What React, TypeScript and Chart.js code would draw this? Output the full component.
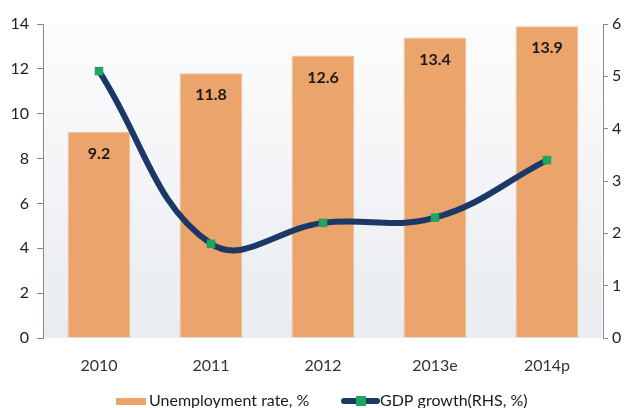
import React, { useEffect, useRef } from "react";
import { Chart, registerables } from "chart.js";

Chart.register(...registerables);

const categories = ["2010", "2011", "2012", "2013e", "2014p"];
const unemployment = [9.2, 11.8, 12.6, 13.4, 13.9];
const gdpGrowth = [5.1, 1.8, 2.2, 2.3, 3.4];
const leftTicks = [0, 2, 4, 6, 8, 10, 12, 14];
const rightTicks = [0, 1, 2, 3, 4, 5, 6];
const seriesNames = ["Unemployment rate, %", "GDP growth(RHS, %)"];

const BAR = "#EAA46C";
const LINE = "#1C3866";
const MARK = "#1FA560";
const FONT = "Lato, 'Open Sans', sans-serif";

const bgPlugin = {
  id: "bgPlugin",
  beforeDatasetsDraw(chart: any) {
    const { ctx, chartArea } = chart;
    const g = ctx.createLinearGradient(0, chartArea.top, 0, chartArea.bottom);
    g.addColorStop(0, "#fbfcfd");
    g.addColorStop(1, "#e9ecf0");
    ctx.save();
    ctx.fillStyle = g;
    ctx.fillRect(chartArea.left + 1, chartArea.top, chartArea.right - chartArea.left - 2, chartArea.bottom - chartArea.top);
    ctx.restore();
  },
};

const labelPlugin = {
  id: "labelPlugin",
  afterDatasetsDraw(chart: any) {
    const { ctx } = chart;
    const meta = chart.getDatasetMeta(1);
    ctx.save();
    ctx.font = `bold 16px ${FONT}`;
    ctx.fillStyle = "#1a1a1a";
    ctx.textAlign = "center";
    ctx.textBaseline = "middle";
    meta.data.forEach((bar: any, i: number) => {
      ctx.fillText(unemployment[i].toFixed(1), bar.x, bar.y + 22);
    });
    ctx.restore();
  },
};

const legendPlugin = {
  id: "legendPlugin",
  afterDraw(chart: any) {
    const { ctx } = chart;
    const y = 401;
    ctx.save();
    ctx.font = `16px ${FONT}`;
    ctx.textBaseline = "middle";
    ctx.textAlign = "left";
    ctx.fillStyle = BAR;
    ctx.fillRect(116, y - 3, 30, 7);
    ctx.fillStyle = "#1a1a1a";
    ctx.fillText(seriesNames[0], 149, y);
    ctx.strokeStyle = LINE;
    ctx.lineWidth = 6;
    ctx.lineCap = "round";
    ctx.beginPath();
    ctx.moveTo(344, y);
    ctx.lineTo(377, y);
    ctx.stroke();
    ctx.fillStyle = MARK;
    ctx.fillRect(356, y - 5, 10, 10);
    ctx.fillStyle = "#1a1a1a";
    ctx.fillText(seriesNames[1], 380, y);
    ctx.restore();
  },
};

export default function App() {
  const ref = useRef<HTMLCanvasElement | null>(null);
  useEffect(() => {
    if (!ref.current) return;
    const chart = new Chart(ref.current, {
      data: {
        labels: categories,
        datasets: [
          {
            type: "line",
            label: seriesNames[1],
            data: gdpGrowth,
            yAxisID: "y2",
            borderColor: LINE,
            borderWidth: 6,
            tension: 0.4,
            pointStyle: "rect",
            pointRadius: 6,
            pointBackgroundColor: MARK,
            pointBorderColor: MARK,
            pointBorderWidth: 0,
            order: 0,
          },
          {
            type: "bar",
            label: seriesNames[0],
            data: unemployment,
            yAxisID: "y",
            backgroundColor: BAR,
            borderColor: "#F1BE96",
            borderWidth: 1,
            categoryPercentage: 0.56,
            barPercentage: 1,
            order: 1,
          },
        ],
      } as any,
      options: {
        animation: false,
        responsive: false,
        maintainAspectRatio: false,
        layout: { padding: { top: 24, bottom: 0, left: 0, right: 0 } },
        plugins: { legend: { display: false }, tooltip: { enabled: false } },
        scales: {
          x: {
            grid: { display: false },
            border: { display: false },
            ticks: { color: "#333", font: { family: FONT, size: 16 }, padding: 10 },
            afterFit(s: any) { s.height = 70; },
          },
          y: {
            position: "left",
            min: 0,
            max: 14,
            afterBuildTicks(s: any) { s.ticks = leftTicks.map((v) => ({ value: v })); },
            grid: { drawOnChartArea: false, color: "#888", tickLength: 6 },
            border: { display: true, color: "#888" },
            ticks: { color: "#222", font: { family: FONT, size: 16 }, padding: 8 },
            afterFit(s: any) { s.width = 43; },
          },
          y2: {
            position: "right",
            min: 0,
            max: 6,
            afterBuildTicks(s: any) { s.ticks = rightTicks.map((v) => ({ value: v })); },
            grid: { drawOnChartArea: false, color: "#888", tickLength: 5 },
            border: { display: true, color: "#888" },
            ticks: { color: "#222", font: { family: FONT, size: 16 }, padding: 4 },
            afterFit(s: any) { s.width = 25; },
          },
        },
      } as any,
      plugins: [bgPlugin, labelPlugin, legendPlugin],
    });
    return () => chart.destroy();
  }, []);
  return (
    <div style={{ position: "fixed", left: 0, top: 0, width: 628, height: 408, background: "#fff" }}>
      <canvas ref={ref} width={628} height={408} style={{ width: 628, height: 408 }} />
    </div>
  );
}
